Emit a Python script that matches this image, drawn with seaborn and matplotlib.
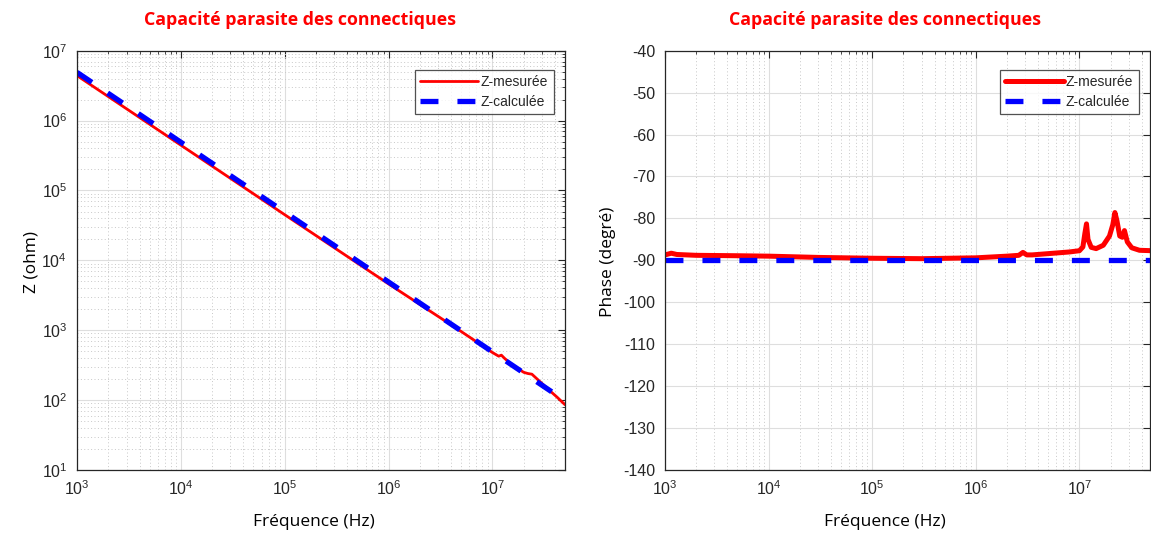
import numpy as np
import pandas as pd
import matplotlib
matplotlib.use("Agg")
import matplotlib.pyplot as plt
import matplotlib.ticker as mticker
import seaborn as sns

# ---------------- data ----------------
freq_z_mes = [1e3, 1e4, 1e5, 1e6, 5e6, 1e7, 1.15e7, 1.22e7, 1.3e7, 1.5e7, 2.0e7, 2.2e7,
              2.4e7, 2.7e7, 3.5e7, 4.2e7, 5e7]
z_mes = [4.4e6, 4.45e5, 4.5e4, 4.6e3, 960, 480, 425, 440, 400, 330, 250, 240,
         235, 200, 140, 110, 86]

freq_z_calc = [1e3, 1e4, 1e5, 1e6, 1e7, 5e7]
z_calc = [4.9e6, 4.9e5, 4.9e4, 4.9e3, 490, 98]

freq_ph_mes = [1e3, 1.15e3, 1.3e3, 2e3, 5e3, 1e4, 3e4, 1e5, 3e5, 1e6, 2e6, 2.6e6, 2.85e6,
               3.1e6, 3.5e6, 5e6, 8e6, 1e7, 1.08e7, 1.13e7, 1.17e7, 1.21e7, 1.3e7, 1.45e7,
               1.7e7, 1.95e7, 2.1e7, 2.2e7, 2.3e7, 2.45e7, 2.6e7, 2.72e7, 2.9e7, 3.2e7,
               3.8e7, 5e7]
ph_mes = [-88.7, -88.3, -88.6, -88.8, -88.9, -89.0, -89.3, -89.5, -89.6, -89.4, -89.0, -88.8,
          -88.1, -88.7, -88.7, -88.4, -88.0, -87.7, -86.8, -83.5, -81.3, -85.0, -86.9, -87.2,
          -86.4, -84.2, -81.5, -78.6, -80.5, -84.2, -84.5, -82.9, -85.6, -87.0,
          -87.6, -87.7]

freq_ph_calc = [1e3, 1e4, 1e5, 1e6, 1e7, 5e7]
ph_calc = [-90, -90, -90, -90, -90, -90]

title_txt = "Capacité parasite des connectiques"
xlabel_txt = "Fréquence (Hz)"
ylabel_left = "Z (ohm)"
ylabel_right = "Phase (degré)"
legend_labels = ["Z-mesurée", "Z-calculée"]

# ---------------- figure ----------------
sns.set_style("white")
plt.rcParams["font.family"] = ["Liberation Sans", "DejaVu Sans"]
plt.rcParams["axes.unicode_minus"] = False

W, H = 1151, 536
fig = plt.figure(figsize=(W / 100, H / 100), dpi=100)

ax_l = fig.add_axes([77 / W, 1 - 470 / H, 488 / W, (470 - 50.7) / H])
ax_r = fig.add_axes([665 / W, 1 - 470 / H, 485 / W, (470 - 50.7) / H])

red = "#ff0000"
blue = "#0000ff"
tick_col = "#262626"

df_zm = pd.DataFrame({"f": freq_z_mes, "v": z_mes})
df_zc = pd.DataFrame({"f": freq_z_calc, "v": z_calc})
df_pm = pd.DataFrame({"f": freq_ph_mes, "v": ph_mes})
df_pc = pd.DataFrame({"f": freq_ph_calc, "v": ph_calc})

sns.lineplot(data=df_zm, x="f", y="v", ax=ax_l, color=red, lw=2.0,
             label=legend_labels[0], sort=False, estimator=None)
sns.lineplot(data=df_zc, x="f", y="v", ax=ax_l, color=blue, lw=3.8,
             label=legend_labels[1], sort=False, estimator=None, dashes=False)
ax_l.lines[-1].set_dashes((3.4, 3.6))

sns.lineplot(data=df_pm, x="f", y="v", ax=ax_r, color=red, lw=3.6,
             label=legend_labels[0], sort=False, estimator=None)
sns.lineplot(data=df_pc, x="f", y="v", ax=ax_r, color=blue, lw=3.8,
             label=legend_labels[1], sort=False, estimator=None, dashes=False)
ax_r.lines[-1].set_dashes((3.4, 3.6))

for ax in (ax_l, ax_r):
    ax.set_xscale("log")
    ax.set_xlim(1e3, 4.8e7 if ax is ax_r else 5e7)
    ax.xaxis.set_major_locator(mticker.LogLocator(base=10, numticks=10))
    ax.xaxis.set_minor_locator(mticker.LogLocator(base=10, subs=np.arange(2, 10), numticks=100))
    ax.xaxis.set_minor_formatter(mticker.NullFormatter())
    ax.tick_params(which="both", direction="in", top=True, right=True,
                   colors=tick_col, labelsize=11.5, pad=7)
    ax.tick_params(which="major", length=5, width=0.8)
    ax.tick_params(which="minor", length=2.5, width=0.6)
    for s in ax.spines.values():
        s.set_color(tick_col)
        s.set_linewidth(0.9)
        s.set_visible(True)
    ax.grid(True, which="major", color="#dedede", lw=0.8, ls="-")
    ax.set_axisbelow(True)
    ax.set_xlabel("")
    ax.set_ylabel("")
    leg = ax.legend(loc="upper right", bbox_to_anchor=(0.985, 0.965), fontsize=10,
                    frameon=True, fancybox=False, edgecolor="#262626",
                    handlelength=4.2, borderpad=0.4, labelspacing=0.4,
                    handletextpad=0.15, borderaxespad=0.3)
    leg.get_frame().set_linewidth(0.9)

ax_l.set_yscale("log")
ax_l.set_ylim(10, 1e7)
ax_l.yaxis.set_major_locator(mticker.LogLocator(base=10, numticks=10))
ax_l.yaxis.set_minor_locator(mticker.LogLocator(base=10, subs=np.arange(2, 10), numticks=100))
ax_l.yaxis.set_minor_formatter(mticker.NullFormatter())
ax_l.grid(True, which="minor", color="#c8c8c8", lw=0.7, ls=(0, (1, 2.5)))

ax_r.set_ylim(-140, -40)
ax_r.yaxis.set_major_locator(mticker.MultipleLocator(10))
ax_r.grid(True, which="minor", axis="x", color="#c8c8c8", lw=0.7, ls=(0, (1, 2.5)))

# titles and labels
title_kw = dict(color=red, fontsize=12.8, fontweight="bold",
                family=["Open Sans", "DejaVu Sans"], ha="center", va="center")
fig.text(300 / W, 1 - 20 / H, title_txt, **title_kw)
fig.text(885 / W, 1 - 20 / H, title_txt, **title_kw)

lab_kw = dict(color="black", fontsize=12.5, family=["Open Sans", "DejaVu Sans"],
              ha="center", va="center")
fig.text(314 / W, 1 - 522 / H, xlabel_txt, **lab_kw)
fig.text(885 / W, 1 - 522 / H, xlabel_txt, **lab_kw)
fig.text(31 / W, 1 - 262 / H, ylabel_left, rotation=90, **lab_kw)
fig.text(608 / W, 1 - 262 / H, ylabel_right, rotation=90, **lab_kw)

fig.savefig("out.png", dpi=100, facecolor="white")
